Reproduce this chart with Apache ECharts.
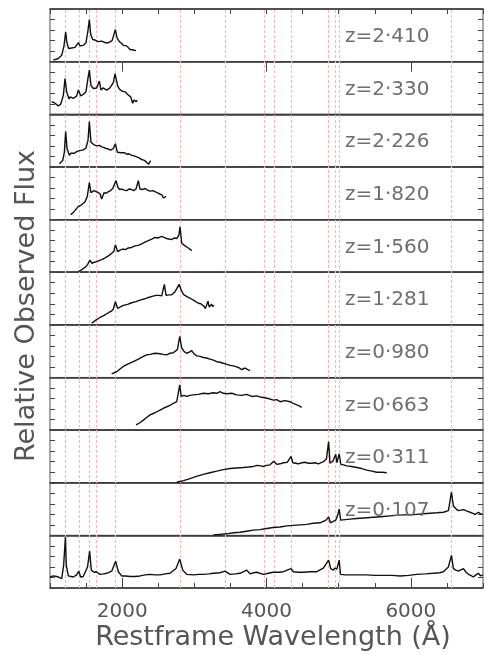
<!DOCTYPE html>
<html>
<head>
<meta charset="utf-8">
<script src="https://cdn.jsdelivr.net/npm/echarts@6/dist/echarts.min.js"></script>
<style>
  html, body { margin: 0; padding: 0; background: #fff; }
  #chart { width: 490px; height: 655px; }
</style>
</head>
<body>
<div id="chart"></div>
<script>
// panel labels, top to bottom (last panel is the composite)
const zLabels = ['z=2·410', 'z=2·330', 'z=2·226', 'z=1·820', 'z=1·560', 'z=1·281',
  'z=0·980', 'z=0·663', 'z=0·311', 'z=0·107', '']

// restframe wavelengths of the marked emission lines (Å)
const emissionLines = [1216, 1400, 1549, 1640, 1909, 2798, 3426, 3970, 4102, 4340, 4861, 4959, 5007, 6563]
const xLabelTicks = [2000, 4000, 6000]

// spectra: [restframe wavelength, relative flux (0-100 of the panel)]
const specZ2410 = [[1046, 3], [1116, 6], [1162, 12], [1194, 30], [1217, 56], [1236, 35], [1259, 25], [1280, 27], [1300, 26],
  [1325, 28], [1347, 27], [1372, 30], [1393, 36], [1416, 30], [1440, 32], [1462, 31], [1499, 36], [1527, 60], [1545, 80],
  [1564, 52], [1591, 42], [1610, 44], [1624, 41], [1647, 40], [1670, 38], [1693, 37], [1715, 39], [1739, 37], [1762, 36],
  [1785, 37], [1810, 36], [1832, 38], [1860, 40], [1878, 48], [1906, 61], [1929, 45], [1961, 38], [1990, 35], [2016, 31],
  [2040, 33], [2063, 30], [2085, 31], [2109, 23], [2130, 25], [2155, 22], [2170, 20], [2192, 21]]

const specZ2330 = [[1023, 24], [1046, 22], [1069, 21], [1092, 18], [1116, 16], [1148, 19], [1185, 36], [1208, 68], [1231, 43],
  [1263, 29], [1280, 33], [1300, 33], [1322, 30], [1347, 31], [1370, 35], [1393, 46], [1425, 35], [1440, 38], [1462, 38],
  [1480, 36], [1499, 43], [1522, 65], [1545, 84], [1568, 55], [1601, 49], [1620, 52], [1647, 50], [1665, 53], [1684, 63],
  [1707, 46], [1735, 50], [1762, 49], [1785, 46], [1809, 47], [1830, 50], [1855, 52], [1878, 60], [1901, 77], [1938, 54],
  [1960, 48], [1979, 46], [2000, 44], [2026, 43], [2050, 42], [2072, 38], [2095, 36], [2118, 33], [2132, 30], [2146, 21],
  [2162, 27], [2178, 30], [2195, 24], [2210, 27]]

const specZ2226 = [[1129, 6], [1155, 8], [1176, 12], [1199, 28], [1217, 67], [1236, 35], [1268, 22], [1290, 26], [1314, 27],
  [1340, 26], [1370, 29], [1407, 31], [1430, 30], [1453, 32], [1475, 31], [1499, 36], [1527, 51], [1545, 86], [1568, 47],
  [1590, 44], [1610, 42], [1635, 43], [1656, 40], [1685, 41], [1716, 38], [1745, 37], [1776, 35], [1810, 34], [1841, 32],
  [1878, 35], [1906, 44], [1933, 28], [1960, 30], [1993, 27], [2030, 27], [2063, 24], [2095, 25], [2132, 22], [2165, 21],
  [2201, 19], [2235, 17], [2271, 14], [2300, 13], [2331, 10], [2350, 9], [2368, 5], [2382, 9], [2395, 12]]

const specZ1820 = [[1286, 9], [1310, 12], [1333, 15], [1360, 18], [1393, 25], [1415, 24], [1439, 28], [1462, 31], [1485, 34],
  [1517, 44], [1545, 70], [1568, 51], [1590, 53], [1610, 55], [1632, 53], [1656, 52], [1693, 49], [1716, 39], [1748, 51],
  [1780, 50], [1809, 53], [1840, 55], [1869, 59], [1915, 74], [1942, 61], [1965, 57], [1993, 58], [2030, 56], [2063, 55],
  [2095, 58], [2132, 57], [2160, 55], [2192, 58], [2224, 74], [2247, 58], [2280, 57], [2317, 59], [2350, 56], [2386, 54],
  [2425, 55], [2469, 52], [2500, 50], [2525, 48], [2550, 47], [2571, 41], [2590, 42], [2608, 44]]

const specZ1560 = [[1393, 1], [1430, 4], [1462, 7], [1495, 10], [1522, 15], [1554, 23], [1582, 17], [1615, 19], [1647, 20],
  [1680, 22], [1716, 24], [1750, 26], [1785, 29], [1820, 32], [1855, 36], [1885, 40], [1906, 52], [1938, 39], [1970, 42],
  [2007, 44], [2045, 43], [2086, 46], [2130, 47], [2178, 50], [2220, 51], [2271, 54], [2315, 57], [2363, 60], [2410, 63],
  [2455, 66], [2500, 65], [2548, 68], [2580, 66], [2617, 64], [2650, 63], [2686, 62], [2720, 65], [2756, 64], [2785, 70],
  [2802, 86], [2825, 55], [2850, 53], [2871, 50], [2895, 49], [2917, 46], [2940, 44], [2964, 41]]

const specZ1281 = [[1578, 3], [1635, 9], [1693, 14], [1750, 18], [1809, 23], [1850, 26], [1878, 30], [1906, 44], [1938, 31],
  [1975, 34], [2016, 37], [2075, 39], [2132, 42], [2190, 44], [2247, 47], [2305, 49], [2363, 52], [2415, 54], [2469, 56],
  [2510, 56], [2548, 55], [2585, 77], [2608, 56], [2650, 57], [2686, 57], [2733, 63], [2790, 77], [2815, 67], [2848, 58],
  [2880, 55], [2917, 52], [2950, 50], [2987, 47], [3020, 44], [3056, 41], [3090, 40], [3116, 38], [3135, 35], [3153, 31],
  [3172, 38], [3190, 45], [3205, 34], [3218, 36], [3240, 39], [3255, 35], [3273, 37]]

const specZ0980 = [[1855, 7], [1890, 9], [1924, 11], [1970, 16], [2016, 21], [2085, 26], [2155, 30], [2225, 35], [2294, 40],
  [2340, 43], [2386, 44], [2455, 46], [2525, 45], [2570, 44], [2617, 43], [2660, 46], [2709, 47], [2765, 53], [2798, 78],
  [2825, 56], [2860, 49], [2894, 46], [2930, 48], [2964, 51], [2995, 45], [3033, 41], [3080, 40], [3125, 38], [3170, 37],
  [3218, 35], [3265, 33], [3310, 30], [3355, 29], [3402, 27], [3450, 25], [3495, 23], [3540, 22], [3587, 20], [3625, 18],
  [3657, 15], [3680, 17], [3703, 18], [3740, 15], [3772, 13]]

const specZ0663 = [[2192, 10], [2245, 14], [2294, 19], [2340, 24], [2386, 29], [2455, 33], [2525, 38], [2595, 43], [2663, 47],
  [2710, 51], [2756, 54], [2798, 86], [2818, 64], [2855, 66], [2894, 64], [2940, 66], [2987, 67], [3055, 68], [3125, 70],
  [3195, 69], [3264, 71], [3310, 70], [3356, 73], [3400, 70], [3449, 69], [3520, 70], [3587, 67], [3655, 66], [3726, 68],
  [3795, 64], [3864, 65], [3910, 63], [3957, 62], [4025, 60], [4095, 57], [4140, 58], [4188, 54], [4255, 56], [4326, 54],
  [4370, 51], [4419, 48], [4455, 46], [4488, 43]]

const specZ0311 = [[2755, 1], [2850, 4], [2940, 8], [3030, 12], [3125, 16], [3215, 19], [3310, 22], [3400, 25], [3495, 27],
  [3585, 28], [3679, 29], [3750, 30], [3818, 31], [3870, 33], [3887, 36], [3920, 32], [3957, 31], [4000, 33], [4049, 34],
  [4100, 41], [4141, 35], [4190, 36], [4234, 38], [4290, 39], [4340, 50], [4366, 38], [4405, 37], [4442, 36], [4490, 38],
  [4534, 39], [4580, 37], [4627, 37], [4675, 38], [4719, 36], [4790, 40], [4830, 45], [4861, 78], [4880, 37], [4920, 41],
  [4959, 54], [4975, 38], [5007, 55], [5030, 35], [5070, 34], [5112, 32], [5180, 31], [5250, 29], [5320, 27], [5389, 24],
  [5460, 22], [5527, 20], [5600, 20], [5666, 19]]

const specZ0107 = [[3264, 1], [3355, 2], [3448, 3], [3540, 5], [3633, 6], [3725, 8], [3818, 10], [3910, 11], [4003, 13],
  [4095, 15], [4188, 16], [4280, 18], [4372, 19], [4465, 20], [4557, 21], [4650, 23], [4742, 24], [4825, 29], [4861, 35],
  [4885, 24], [4959, 29], [4990, 40], [5007, 50], [5028, 29], [5090, 30], [5158, 31], [5250, 32], [5343, 33], [5435, 34],
  [5527, 35], [5620, 36], [5712, 37], [5805, 38], [5897, 39], [5990, 39], [6082, 40], [6175, 41], [6267, 42], [6360, 43],
  [6451, 44], [6521, 47], [6563, 82], [6590, 56], [6630, 50], [6659, 47], [6729, 49], [6780, 46], [6821, 44], [6860, 42],
  [6890, 40], [6937, 44], [6965, 41], [6997, 40]]

const specComposite = [[1000, 21], [1045, 23], [1092, 22], [1130, 20], [1162, 18], [1189, 43], [1214, 97], [1226, 43],
  [1254, 23], [1290, 22], [1323, 21], [1370, 25], [1398, 32], [1425, 21], [1460, 22], [1485, 23], [1520, 40], [1549, 70],
  [1573, 34], [1610, 30], [1640, 31], [1693, 26], [1740, 27], [1785, 28], [1855, 32], [1909, 51], [1947, 31], [1993, 23],
  [2050, 23], [2109, 22], [2180, 22], [2247, 23], [2320, 25], [2386, 26], [2455, 25], [2525, 25], [2595, 27], [2663, 28],
  [2746, 37], [2798, 55], [2839, 34], [2894, 26], [2987, 25], [3060, 26], [3125, 26], [3200, 27], [3264, 28], [3356, 29],
  [3426, 32], [3495, 26], [3570, 27], [3633, 28], [3726, 34], [3772, 27], [3820, 29], [3864, 30], [3957, 26], [4026, 28],
  [4095, 30], [4170, 30], [4234, 31], [4340, 37], [4373, 31], [4440, 30], [4511, 30], [4600, 31], [4696, 31], [4788, 38],
  [4861, 53], [4890, 37], [4927, 34], [4945, 38], [4959, 40], [4975, 36], [5007, 53], [5025, 26], [5090, 25], [5158, 25],
  [5270, 25], [5389, 25], [5500, 24], [5620, 24], [5740, 24], [5851, 23], [5970, 24], [6082, 26], [6200, 27], [6313, 28],
  [6400, 29], [6452, 31], [6520, 40], [6563, 62], [6590, 37], [6625, 34], [6660, 32], [6700, 35], [6729, 37], [6760, 31],
  [6798, 26], [6830, 24], [6867, 21], [6900, 25], [6937, 28], [6965, 23], [6997, 25]]

const spectra = [specZ2410, specZ2330, specZ2226, specZ1820, specZ1560, specZ1281,
  specZ0980, specZ0663, specZ0311, specZ0107, specComposite]

// layout
const plotLeft = 50
const plotWidth = 433
const plotTop = 9
const panelH = 52.64
const nPanels = spectra.length
const last = nPanels - 1
const fontFamily = 'DejaVu Sans'

const grid = []
const xAxis = []
const yAxis = []
const series = []
const graphic = []

const tickStyle = { color: '#444', width: 1 }

for (let i = 0; i < nPanels; i++) {
  const top = plotTop + i * panelH
  grid.push({ left: plotLeft, top: top, width: plotWidth, height: panelH, show: true, borderColor: '#555', borderWidth: 1 })
  xAxis.push({
    type: 'value', gridIndex: i, min: 1000, max: 7000, interval: 500, position: 'bottom',
    axisLine: { show: true, onZero: false, lineStyle: { color: '#333', width: 1.6 } },
    axisTick: { show: i === last, inside: true, length: 5, lineStyle: tickStyle },
    axisLabel: {
      show: i === last, margin: 14, color: '#555', fontSize: 20, fontFamily: fontFamily,
      formatter: v => (v % 2000 === 0 ? String(v) : '')
    },
    splitLine: { show: false }
  })
  const yBase = {
    type: 'value', gridIndex: i, min: 0, max: 100, interval: 20,
    axisLine: { show: false },
    axisTick: { show: true, inside: true, length: 5, lineStyle: tickStyle },
    axisLabel: { show: false },
    splitLine: { show: false }
  }
  yAxis.push(Object.assign({ position: 'left' }, yBase))
  yAxis.push(Object.assign({ position: 'right' }, yBase))
  series.push({
    type: 'line', xAxisIndex: i, yAxisIndex: 2 * i, data: spectra[i],
    showSymbol: false, symbol: 'none', silent: true, z: 5,
    lineStyle: { color: '#111', width: 1.4 }
  })
  if (zLabels[i]) {
    graphic.push({
      type: 'text', left: 345, top: top + 18, z: 10,
      style: { text: zLabels[i], font: '20px "' + fontFamily + '"', fill: '#6e6e6e' }
    })
  }
}

// extra tick axes: minor + long ticks on top of first panel, long ticks at bottom of last one
xAxis.push({
  type: 'value', gridIndex: 0, min: 1000, max: 7000, interval: 500, position: 'top',
  axisLine: { show: true, onZero: false, lineStyle: { color: '#333', width: 1.6 } },
  axisTick: { show: true, inside: true, length: 5, lineStyle: tickStyle },
  axisLabel: { show: false }, splitLine: { show: false }
})
xAxis.push({
  type: 'value', gridIndex: 0, min: 1000, max: 7000, position: 'top',
  axisLine: { show: false },
  axisTick: { show: true, inside: true, length: 10, customValues: xLabelTicks, lineStyle: tickStyle },
  axisLabel: { show: false }, splitLine: { show: false }
})
xAxis.push({
  type: 'value', gridIndex: last, min: 1000, max: 7000, position: 'bottom',
  axisLine: { show: false },
  axisTick: { show: true, inside: true, length: 10, customValues: xLabelTicks, lineStyle: tickStyle },
  axisLabel: { show: false }, splitLine: { show: false }
})

// background grid spanning all panels, carries the emission-line markers
grid.push({ left: plotLeft, top: plotTop, width: plotWidth, height: panelH * nPanels })
const bgX = xAxis.length
const bgY = yAxis.length
xAxis.push({ type: 'value', gridIndex: nPanels, min: 1000, max: 7000, show: false })
yAxis.push({ type: 'value', gridIndex: nPanels, min: 0, max: 1, show: false })
series.push({
  type: 'line', xAxisIndex: bgX, yAxisIndex: bgY, data: [[1000, -1]], symbol: 'none', silent: true, z: 1,
  lineStyle: { opacity: 0 },
  markLine: {
    silent: true, symbol: 'none', animation: false,
    label: { show: false },
    lineStyle: { color: '#f6b8b8', type: [3, 2], width: 1.2 },
    data: emissionLines.map(v => ({ xAxis: v }))
  }
})

// axis titles
graphic.push({
  type: 'text', x: 27, y: 306, rotation: Math.PI / 2,
  style: { text: 'Relative Observed Flux', font: '27px "' + fontFamily + '"', fill: '#555', align: 'center', verticalAlign: 'middle' }
})
graphic.push({
  type: 'text', x: 273, y: 638,
  style: { text: 'Restframe Wavelength (Å)', font: '27px "' + fontFamily + '"', fill: '#555', align: 'center', verticalAlign: 'middle' }
})

const chart = echarts.init(document.getElementById('chart'))
chart.setOption({
  animation: false,
  backgroundColor: '#fff',
  grid: grid,
  xAxis: xAxis,
  yAxis: yAxis,
  series: series,
  graphic: graphic
})
</script>
</body>
</html>
